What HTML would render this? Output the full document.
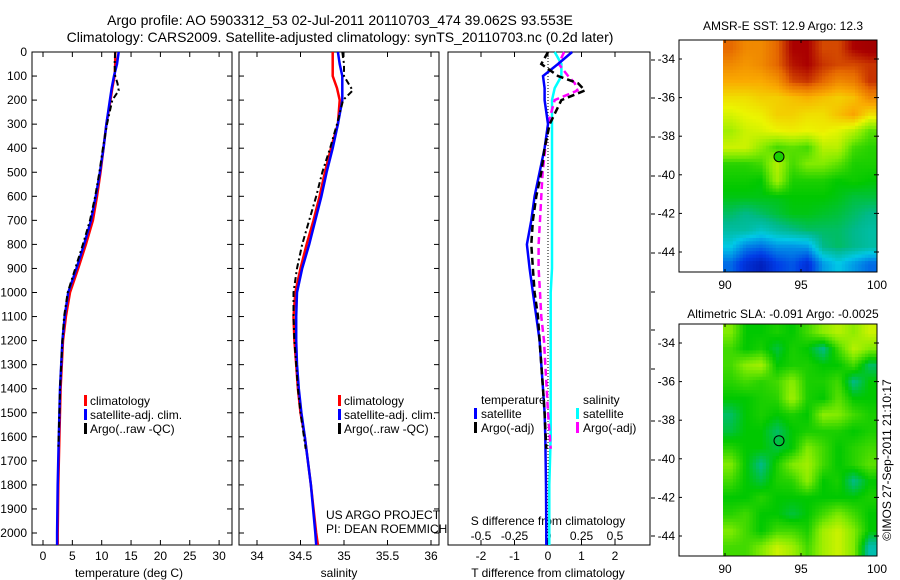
<!DOCTYPE html>
<html><head><meta charset="utf-8"><style>
body{margin:0;background:#fff;}
svg{display:block;font-family:"Liberation Sans",sans-serif;}
text{fill:#000;}
</style></head><body>
<svg id="c" width="900" height="580" xmlns="http://www.w3.org/2000/svg">
<text x="340" y="25" font-size="14" text-anchor="middle">Argo profile: AO 5903312_53 02-Jul-2011 20110703_474 39.062S 93.553E</text>
<text x="340" y="42" font-size="14" text-anchor="middle">Climatology: CARS2009. Satellite-adjusted climatology: synTS_20110703.nc (0.2d later)</text>
<text x="783" y="30" font-size="12" text-anchor="middle">AMSR-E SST: 12.9 Argo: 12.3</text>
<text x="783" y="318" font-size="12" text-anchor="middle">Altimetric SLA: -0.091 Argo: -0.0025</text>
<text transform="translate(891,460) rotate(-90)" font-size="12" text-anchor="middle">©IMOS 27-Sep-2011 21:10:17</text>
<text x="326" y="519" font-size="12">US ARGO PROJECT</text>
<text x="326" y="533" font-size="12">PI: DEAN ROEMMICH</text>
</svg>
<script>
// ---------- data ----------
const tDepth = [0,50,100,150,200,300,400,500,600,700,800,900,1000,1100,1200,1300,1400,1500,1600,1800,2000,2050];
const tempClim = [12.3,12.3,12.2,11.8,11.5,10.8,10.3,9.8,9.2,8.5,7.3,6.0,4.6,3.9,3.4,3.2,3.0,2.9,2.8,2.6,2.5,2.5];
const tempSat = [12.9,12.6,12.1,11.7,11.4,10.8,10.3,9.7,9.0,8.2,7.0,5.7,4.3,3.7,3.3,3.1,2.9,2.8,2.7,2.5,2.4,2.4];
const argoDepth = [0,50,100,130,160,200,300,400,500,600,700,800,900,1000,1100,1200,1300,1400,1500,1650];
const tempArgo = [12.3,12.2,12.3,12.7,12.9,11.8,10.9,10.2,9.6,8.9,8.0,6.8,5.5,4.2,3.6,3.3,3.1,2.9,2.8,2.6];
const salClim = [34.87,34.87,34.87,34.92,34.95,34.93,34.85,34.78,34.72,34.65,34.57,34.5,34.44,34.42,34.43,34.45,34.47,34.5,34.55,34.62,34.68,34.7];
const salSat = [34.93,34.95,34.98,34.98,34.98,34.93,34.87,34.8,34.74,34.67,34.6,34.52,34.46,34.45,34.45,34.46,34.48,34.51,34.55,34.62,34.67,34.68];
const salArgo = [34.98,35.0,35.0,35.05,35.1,34.99,34.92,34.84,34.75,34.68,34.6,34.52,34.46,34.42,34.42,34.43,34.45,34.47,34.5,34.56];
const dtSat = [0.72,0.3,-0.15,-0.1,-0.1,0.0,-0.1,-0.25,-0.4,-0.5,-0.63,-0.55,-0.45,-0.35,-0.25,-0.2,-0.15,-0.1,-0.08,-0.06,-0.05,-0.05];
const dsSat = [0.05,0.1,0.1,0.05,0.03,0.03,0.03,0.03,0.03,0.03,0.03,0.03,0.02,0.02,0.02,0.02,0.02,0.02,0.02,0.01,0.01,0.01];
const dtArgo = [0.0,-0.2,0.3,0.9,1.1,0.4,0.05,-0.1,-0.2,-0.35,-0.45,-0.5,-0.45,-0.4,-0.3,-0.25,-0.2,-0.15,-0.1,-0.05];
const dsArgo = [0.12,0.08,0.15,0.2,0.22,0.05,0.0,-0.02,-0.04,-0.05,-0.06,-0.07,-0.07,-0.06,-0.05,-0.03,-0.02,-0.01,0.0,0.02];
const depthTicks = [0,100,200,300,400,500,600,700,800,900,1000,1100,1200,1300,1400,1500,1600,1700,1800,1900,2000];
const tempTicks = [0,5,10,15,20,25,30];
const salTicks = [34,34.5,35,35.5,36];
const dtTicks = [-2,-1,0,1,2];
const dsTicks = [-0.5,-0.25,0,0.25,0.5];
const lonTicks = [90,95,100];
const latTicks = [-34,-36,-38,-40,-42,-44];
const argoLon = 93.553, argoLat = -39.062;
const sstGrid = [
[0.85,0.8,0.8,0.85,0.95,0.95,0.88,0.88,0.95,0.97],
[0.8,0.78,0.8,0.85,0.93,0.95,0.9,0.88,0.88,0.9],
[0.75,0.75,0.75,0.78,0.88,0.9,0.85,0.8,0.82,0.9],
[0.68,0.68,0.7,0.7,0.72,0.74,0.72,0.7,0.72,0.8],
[0.63,0.65,0.66,0.7,0.7,0.68,0.68,0.72,0.76,0.68],
[0.58,0.62,0.63,0.65,0.66,0.65,0.66,0.64,0.6,0.52],
[0.62,0.62,0.56,0.5,0.52,0.5,0.6,0.6,0.5,0.48],
[0.48,0.48,0.5,0.6,0.5,0.55,0.55,0.52,0.47,0.47],
[0.46,0.46,0.45,0.58,0.47,0.47,0.47,0.45,0.46,0.45],
[0.44,0.44,0.44,0.44,0.45,0.45,0.45,0.44,0.42,0.42],
[0.4,0.38,0.4,0.42,0.44,0.44,0.43,0.42,0.4,0.38],
[0.36,0.36,0.33,0.36,0.38,0.4,0.4,0.4,0.38,0.36],
[0.3,0.22,0.2,0.24,0.24,0.25,0.38,0.4,0.38,0.36],
[0.2,0.12,0.08,0.15,0.18,0.12,0.25,0.3,0.25,0.2]];
const slaGrid = [
[0.55,0.45,0.45,0.47,0.45,0.5,0.56,0.6,0.56,0.62],
[0.5,0.45,0.47,0.42,0.47,0.45,0.38,0.5,0.6,0.55],
[0.5,0.56,0.58,0.45,0.47,0.47,0.45,0.45,0.5,0.4],
[0.48,0.5,0.48,0.5,0.56,0.47,0.47,0.5,0.38,0.45],
[0.45,0.45,0.47,0.48,0.58,0.47,0.45,0.52,0.45,0.45],
[0.4,0.45,0.47,0.45,0.47,0.45,0.56,0.55,0.5,0.47],
[0.42,0.45,0.45,0.4,0.45,0.47,0.47,0.47,0.45,0.47],
[0.48,0.45,0.45,0.42,0.45,0.55,0.5,0.45,0.48,0.5],
[0.55,0.45,0.38,0.47,0.55,0.58,0.5,0.45,0.48,0.52],
[0.5,0.45,0.42,0.47,0.48,0.56,0.45,0.47,0.38,0.45],
[0.45,0.45,0.48,0.45,0.45,0.45,0.45,0.45,0.45,0.47],
[0.48,0.5,0.45,0.45,0.42,0.45,0.5,0.55,0.5,0.45],
[0.55,0.5,0.45,0.5,0.5,0.47,0.58,0.62,0.55,0.45],
[0.5,0.5,0.55,0.62,0.58,0.5,0.58,0.62,0.55,0.35]];

// ---------- scales ----------
const svg = document.getElementById('c');
const NS = 'http://www.w3.org/2000/svg';
const yD = d => 52 + d * 0.2405;
const xT = t => 43 + t * 5.87;
const xS = s => 257 + (s - 34) * 87;
const xDT = t => 548 + t * 33.5;
const xDS = s => 548 + s * 134;
function mk(tag, attrs, parent){const e=document.createElementNS(NS,tag);for(const k in attrs)e.setAttribute(k,attrs[k]);(parent||svg).appendChild(e);return e;}
function txt(x,y,s,anchor,size){const e=mk('text',{x:x,y:y,'font-size':size||12,'text-anchor':anchor||'middle'});e.textContent=s;return e;}
function line(xs,ys,xf,color,w,dash,name){
  const pts = ys.map((d,i)=>xf(xs[i]).toFixed(1)+','+yD(d).toFixed(1)).join(' ');
  const p = mk('polyline',{points:pts,fill:'none',stroke:color,'stroke-width':w});
  if(dash) p.setAttribute('stroke-dasharray',dash);
  
  
}
function frame(x0,x1,name){
  const r = mk('rect',{x:x0,y:52,width:x1-x0,height:493,fill:'none',stroke:'#000','stroke-width':1});
  
  
}

// ---------- panel 1 temperature ----------
frame(32,232,'temperature-panel');
depthTicks.forEach(d=>{mk('line',{x1:32,x2:37,y1:yD(d),y2:yD(d),stroke:'#000'});mk('line',{x1:227,x2:232,y1:yD(d),y2:yD(d),stroke:'#000'});
  const t=txt(27,yD(d)+4,String(d),'end');
  
  });
tempTicks.forEach(v=>{const x=xT(v);mk('line',{x1:x,x2:x,y1:52,y2:57,stroke:'#000'});mk('line',{x1:x,x2:x,y1:540,y2:545,stroke:'#000'});
  const t=txt(x,560,String(v));
  
  });
let lab=txt(129,577,'temperature (deg C)');


line(tempClim,tDepth,xT,'#f00',2.5,null,'temperature-climatology-line');
line(tempSat,tDepth,xT,'#00f',2.5,null,'temperature-satellite-line');
line(tempArgo,argoDepth,xT,'#000',2,'6,3,2,3','temperature-argo-line');

// ---------- panel 2 salinity ----------
frame(239,439,'salinity-panel');
depthTicks.forEach(d=>{mk('line',{x1:239,x2:244,y1:yD(d),y2:yD(d),stroke:'#000'});mk('line',{x1:434,x2:439,y1:yD(d),y2:yD(d),stroke:'#000'});});
salTicks.forEach(v=>{const x=xS(v);mk('line',{x1:x,x2:x,y1:52,y2:57,stroke:'#000'});mk('line',{x1:x,x2:x,y1:540,y2:545,stroke:'#000'});
  const t=txt(x,560,String(v));
  
  });
lab=txt(339,577,'salinity');


line(salClim,tDepth,xS,'#f00',2.5,null,'salinity-climatology-line');
line(salSat,tDepth,xS,'#00f',2.5,null,'salinity-satellite-line');
line(salArgo,argoDepth,xS,'#000',2,'6,3,2,3','salinity-argo-line');

[[84,'temperature-legend'],[338,'salinity-legend']].forEach(([lx,nm])=>{
  const g=mk('g',{});
  
  
  [['#f00','climatology'],['#00f','satellite-adj. clim.'],['#000','Argo(..raw -QC)']].forEach((it,i)=>{
    const y=400+i*14;
    mk('rect',{x:lx,y:y-5,width:3,height:11,fill:it[0]},g);
    const t=mk('text',{x:lx+6,y:y+5,'font-size':12},g);t.textContent=it[1];
  });
});

// ---------- panel 3 differences ----------
frame(448,650,'difference-panel');
[60,98,137,176,214,253,292,330,369,421,460,498,536].forEach(y=>mk('line',{x1:651,x2:655,y1:y,y2:y,stroke:'#000'}));
dtTicks.forEach(v=>{const x=xDT(v);mk('line',{x1:x,x2:x,y1:52,y2:57,stroke:'#000'});mk('line',{x1:x,x2:x,y1:540,y2:545,stroke:'#000'});
  const t=txt(x,560,String(v));
  
  });
dsTicks.forEach(v=>{const t=txt(xDS(v),540,String(v));
  
  });
lab=txt(548,525,'S difference from climatology');


lab=txt(548,577,'T difference from climatology');


mk('line',{x1:xDT(0),x2:xDT(0),y1:52,y2:545,stroke:'#000','stroke-dasharray':'1,2'});
line(dsSat,tDepth,xDS,'#0ff',2.5,null,'salinity-diff-satellite-line');
line(dsArgo,argoDepth,xDS,'#f0f',2.5,'7,4','salinity-diff-argo-line');
line(dtSat,tDepth,xDT,'#00f',2.5,null,'temperature-diff-satellite-line');
line(dtArgo,argoDepth,xDT,'#000',2.5,'7,4','temperature-diff-argo-line');
(function(){
  const g=mk('g',{});
  
  
  let t=mk('text',{x:481,y:404,'font-size':12},g);t.textContent='temperature';
  t=mk('text',{x:583,y:404,'font-size':12},g);t.textContent='salinity';
  [['#00f',474,'satellite',413],['#000',474,'Argo(-adj)',427],['#0ff',576,'satellite',413],['#f0f',576,'Argo(-adj)',427]].forEach(it=>{
    mk('rect',{x:it[1],y:it[3]-5,width:3,height:11,fill:it[0]},g);
    const tt=mk('text',{x:it[1]+7,y:it[3]+5,'font-size':12},g);tt.textContent=it[2];
  });
})();

// ---------- maps ----------
const stops=[[0,[0,0,140]],[0.15,[0,60,230]],[0.3,[0,200,230]],[0.38,[0,185,140]],[0.45,[0,200,0]],[0.55,[130,235,0]],[0.65,[235,245,0]],[0.75,[250,170,0]],[0.85,[230,105,0]],[0.95,[170,0,0]],[1,[150,0,0]]];
function cmap(v){for(let i=1;i<stops.length;i++){if(v<=stops[i][0]){const a=stops[i-1],b=stops[i],f=(v-a[0])/(b[0]-a[0]);return 'rgb('+a[1].map((c,k)=>Math.round(c+(b[1][k]-c)*f)).join(',')+')';}}return 'rgb(150,0,0)';}
function sample(grid,u,v){ // bilinear, u,v in cell units (centers at i+0.5)
  const rows=grid.length, cols=grid[0].length;
  let fx=Math.min(Math.max(u-0.5,0),cols-1), fy=Math.min(Math.max(v-0.5,0),rows-1);
  const x0=Math.floor(fx), y0=Math.floor(fy), x1=Math.min(x0+1,cols-1), y1=Math.min(y0+1,rows-1);
  const ax=fx-x0, ay=fy-y0;
  return grid[y0][x0]*(1-ax)*(1-ay)+grid[y0][x1]*ax*(1-ay)+grid[y1][x0]*(1-ax)*ay+grid[y1][x1]*ax*ay;
}
function map(top,grid,name,filled){
  const ft=top, fb=top+232;
  const xL = lon => 725 + (lon-90)*15.2;
  const yL = lat => top + 19 + (-34 - lat)*19.3;
  const g=mk('g',{});
  
  
  const rows=grid.length, cols=grid[0].length;
  const x0=723,x1=877,W=x1-x0,H=fb-ft,px=3.3;
  const nx=Math.ceil(W/px), ny=Math.ceil(H/px);
  for(let j=0;j<ny;j++)for(let i=0;i<nx;i++){
    const u=(i+0.5)*px/W*cols, v=(j+0.5)*px/H*rows;
    const w=Math.min(px, W-i*px), h=Math.min(px, H-j*px);
    const cell=mk('rect',{x:(x0+i*px).toFixed(2),y:(ft+j*px).toFixed(2),width:(w+0.4).toFixed(2),height:(h+0.4).toFixed(2),fill:cmap(sample(grid,u,v))},g);
    
    
  }
  mk('rect',{x:679,y:ft,width:198,height:fb-ft,fill:'none',stroke:'#000'},g);
  lonTicks.forEach(l=>{const x=xL(l);mk('line',{x1:x,x2:x,y1:ft,y2:ft+3,stroke:'#000'},g);mk('line',{x1:x,x2:x,y1:fb-3,y2:fb,stroke:'#000'},g);
    const t=mk('text',{x:x,y:fb+17,'font-size':12,'text-anchor':'middle'},g);t.textContent=String(l);});
  latTicks.forEach(l=>{const y=yL(l);mk('line',{x1:679,x2:682,y1:y,y2:y,stroke:'#000'},g);mk('line',{x1:874,x2:879,y1:y,y2:y,stroke:'#000'},g);
    const t=mk('text',{x:675,y:y+4,'font-size':12,'text-anchor':'end'},g);t.textContent=String(l);});
  const m=mk('circle',{cx:xL(argoLon),cy:yL(argoLat),r:5,fill:filled?cmap(0.47):'none',stroke:'#000','stroke-width':1},g);
  
  
}
map(40,sstGrid,'sst-map',true);
map(324,slaGrid,'sla-map',false);
</script>
</body></html>
